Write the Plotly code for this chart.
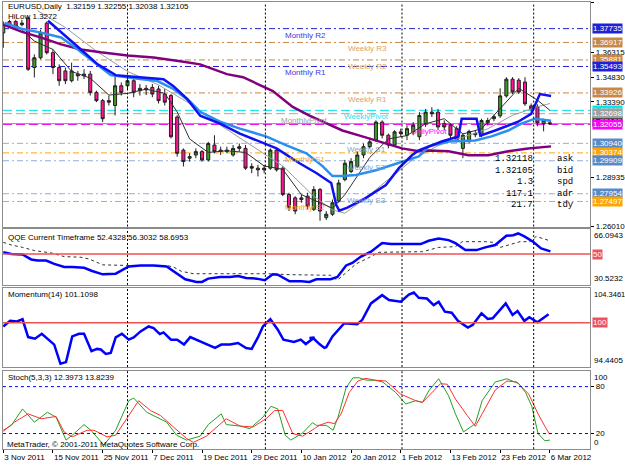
import plotly.graph_objects as go
from plotly.subplots import make_subplots

W, H = 625, 469
def px(x): return x / W
def py(y): return 1 - y / H

# ---------------- data ----------------
bar_idx = list(range(89))
opens = [1.3748,1.3816,1.3816,1.3797,1.3836,1.3543,1.3601,1.3806,1.3631,1.3543,
         1.3523,1.3465,1.3504,1.3494,1.3504,1.3396,1.3347,1.3347,1.3318,1.3435,
         1.3435,1.3465,1.3406,1.3420,1.3425,1.3416,1.3386,1.3377,1.3250,1.3054,
         1.3006,1.3025,1.3045,1.2996,1.3084,1.3054,1.3045,1.3025,1.3064,1.3064,
         1.2957,1.2947,1.2937,1.2947,1.3054,1.2947,1.2791,1.2771,1.2771,1.2781,
         1.2703,1.2820,1.2654,1.2674,1.2752,1.2879,1.2927,1.2957,1.3025,1.3074,
         1.3113,1.3220,1.3142,1.3084,1.3162,1.3142,1.3162,1.3133,1.3211,1.3279,
         1.3279,1.3211,1.3201,1.3181,1.3064,1.3105,1.3145,1.3140,1.3215,1.3240,
         1.3257,1.3375,1.3474,1.3468,1.3457,1.3316,1.3310,1.3211,1.32159]
closes = [1.3797,1.3787,1.3777,1.3806,1.3533,1.3601,1.3748,1.3631,1.3543,1.3465,
          1.3465,1.3523,1.3494,1.3504,1.3396,1.3347,1.3240,1.3338,1.3435,1.3396,
          1.3465,1.3396,1.3420,1.3411,1.3386,1.3347,1.3338,1.3133,1.3035,1.2986,
          1.3015,1.3045,1.2996,1.3093,1.3045,1.3045,1.3054,1.3064,1.3074,1.2947,
          1.2947,1.2937,1.2947,1.3054,1.2937,1.2791,1.2713,1.2693,1.2761,1.2722,
          1.2820,1.2693,1.2674,1.2742,1.2859,1.2976,1.2986,1.3025,1.3074,1.3103,
          1.3220,1.3142,1.3084,1.3162,1.3152,1.3181,1.3201,1.3259,1.3279,1.3269,
          1.3191,1.3191,1.3142,1.3111,1.3142,1.3164,1.3152,1.3229,1.3229,1.3252,
          1.3375,1.3474,1.3398,1.3398,1.3328,1.3298,1.3215,1.3230,1.32105]
highs = [1.3816,1.3826,1.3826,1.3826,1.3845,1.3621,1.3767,1.3816,1.3650,1.3562,
         1.3543,1.3572,1.3523,1.3533,1.3523,1.3406,1.3357,1.3377,1.3504,1.3455,
         1.3494,1.3484,1.3445,1.3440,1.3445,1.3435,1.3416,1.3386,1.3260,1.3064,
         1.3035,1.3064,1.3054,1.3103,1.3142,1.3074,1.3074,1.3084,1.3093,1.3084,
         1.2976,1.2967,1.2967,1.3064,1.3064,1.2957,1.2801,1.2781,1.2791,1.2801,
         1.2840,1.2830,1.2693,1.2761,1.2879,1.2996,1.3006,1.3045,1.3093,1.3123,
         1.3230,1.3230,1.3152,1.3172,1.3181,1.3201,1.3220,1.3279,1.3298,1.3308,
         1.3298,1.3230,1.3211,1.3195,1.3152,1.3175,1.3170,1.3240,1.3245,1.3265,
         1.3420,1.3486,1.3486,1.3480,1.3486,1.3330,1.3325,1.3240,1.32255]
lows = [1.3660,1.3777,1.3767,1.3787,1.3523,1.3484,1.3592,1.3621,1.3504,1.3435,
        1.3445,1.3455,1.3465,1.3475,1.3377,1.3338,1.3220,1.3318,1.3259,1.3377,
        1.3416,1.3367,1.3377,1.3380,1.3367,1.3330,1.3318,1.3123,1.3015,1.2957,
        1.2986,1.3006,1.2986,1.2986,1.3035,1.3025,1.3035,1.3015,1.3045,1.2937,
        1.2917,1.2898,1.2917,1.2937,1.2927,1.2781,1.2693,1.2674,1.2742,1.2703,
        1.2693,1.2635,1.2640,1.2664,1.2742,1.2869,1.2917,1.2947,1.3006,1.3064,
        1.3103,1.3123,1.3064,1.3074,1.3133,1.3113,1.3142,1.3113,1.3191,1.3250,
        1.3172,1.3172,1.3123,1.3100,1.3006,1.3095,1.3130,1.3130,1.3200,1.3225,
        1.3245,1.3365,1.3386,1.3386,1.3316,1.3280,1.3195,1.3165,1.32038]

# HiLo (blue), fast EMA (dodger blue), slow MA (purple): (bar position, price)
hilo_x = [7.2,10.4,12.5,15.2,18.1,20,25.8,27.4,29.6,31.7,34.9,38.1,41.3,44,47.7,50.4,52.8,53.6,54.1,55.4,58.4,61.6,63.7,65.8,66.9,70.6,73.3,73.8,76.2,76.8,79.2,82.9,85,86.4,88.2]
hilo_y = [1.3820,1.3720,1.3650,1.3562,1.3498,1.3492,1.3474,1.3433,1.3357,1.3258,1.3211,1.3152,1.3105,1.3064,1.2976,1.2918,1.2859,1.2730,1.2695,1.2713,1.2771,1.2847,1.2947,1.3023,1.3052,1.3105,1.3135,1.3240,1.3240,1.3140,1.3170,1.3222,1.3269,1.3386,1.3375]
ema_x = [0.2,2.9,6.1,9.3,12,14.6,17.3,21,24.8,27.4,30.1,31.7,34.9,38.1,42.4,45.6,48.8,51.4,53,54.6,56.8,60,62.6,64.8,66.9,68.5,71.7,76,78.6,81.3,83.4,85.6,88.2]
ema_y = [1.3808,1.3773,1.3750,1.3721,1.3650,1.3574,1.3498,1.3480,1.3463,1.3416,1.3340,1.3281,1.3222,1.3181,1.3134,1.3082,1.3035,1.2959,1.2900,1.2900,1.2906,1.2935,1.2965,1.2994,1.3017,1.3076,1.3105,1.3111,1.3135,1.3170,1.3211,1.3240,1.3228]
slow_x = [0,2.9,6.1,9.3,12.5,15.7,20,24.2,28.5,31.7,36,38.6,43.4,46.6,49.3,52,54.6,57.8,61.6,64.2,66.9,68.5,71.7,74.9,78.1,81.3,84.5,88.2]
slow_y = [1.3797,1.3756,1.3720,1.3680,1.3650,1.3633,1.3615,1.3603,1.3580,1.3562,1.3504,1.3486,1.3404,1.3310,1.3258,1.3211,1.3170,1.3135,1.3093,1.3064,1.3047,1.3052,1.3047,1.3023,1.3023,1.3047,1.3064,1.3076]
# thin fast average (dark) and slower thin band line (gray)
fast_x = [2,5,8,11,14,17,20,23,26,28,30,33,36,39,42,45,48,51,53,55,57,59,62,65,68,71,74,77,80,83,86,88]
fast_y = [1.3800,1.3700,1.3650,1.3520,1.3480,1.3380,1.3390,1.3415,1.3390,1.3280,1.3120,1.3040,1.3050,1.3040,1.2960,1.2940,1.2790,1.2740,1.2710,1.2790,1.2900,1.3010,1.3120,1.3140,1.3210,1.3240,1.3150,1.3180,1.3300,1.3420,1.3350,1.3290]
band_x = [5.5,10,15,20,25,30,35,40,45,50,53,55,58,62,66,70,74,78,82,86,88]
band_y = [1.3880,1.3780,1.3640,1.3520,1.3440,1.3330,1.3200,1.3080,1.2960,1.2780,1.2700,1.2680,1.2760,1.2880,1.3000,1.3080,1.3130,1.3180,1.3260,1.3310,1.3330]

# QQE
qqe_x = [0,1.3,3.1,4.5,5.5,6.9,8.2,9.8,11.1,13,14.3,16,18.1,20.2,22.1,24.2,26.3,27.7,29.3,31.1,32,33,34.9,36.5,37.8,39.1,40.8,42.1,43.4,44.2,46.1,48,49.3,
         50.4,51.4,52.7,53.8,55.2,56.2,57.6,59.2,61,62.4,64,65.3,67.2,68.5,70.1,71.7,72.8,74.4,76.2,77.6,79.2,81,82.1,82.9,83.9,85.3,86.6,88.1]
qqe_y = [51.1,50.1,49.7,46.6,45.9,45.9,43.8,41.8,41.8,41.3,39.3,37.2,37.6,42.2,42.8,42.8,42.2,38.6,34.1,32.4,32.4,34.5,35.5,35.5,36.1,34.9,34.5,33.5,37.2,37.0,32.8,32.8,32.4,
         34.1,34.1,34.1,35.5,42.8,44.4,48.4,51.5,56.9,56.3,56.3,56.7,56.3,58.4,59.8,58.8,56.9,52.5,52.5,54.2,55.7,61.5,61.9,63.0,61.1,57.8,53.6,51.7]
qqe_sig_x = [0,1.3,3.1,5,7.7,9.8,12.5,13.8,16,20,26.3,27.4,28.7,30.6,37,42.4,46.1,49.3,52.7,53.8,55.2,56.8,58.7,60.5,67.5,70.1,72.8,73.9,77.6,78.9,80,81.8,83.2,84.8,85.8,88]
qqe_sig_y = [57.4,55.7,54.2,52.2,50.7,48.4,48.0,46.9,43.2,42.8,42.8,41.8,39.1,37.6,37.6,37.6,37.0,36.6,36.6,33.5,38.6,43.8,47.4,51.1,51.5,54.2,54.7,57.8,57.8,57.4,54.2,56.3,57.8,57.8,61.1,58.4]

# Momentum(14)
mom_x = [0,1.1,2.2,3.1,4,5.1,6.2,7.7,8.2,9.2,10.1,11.1,12.2,13,14.2,15.1,15.7,16.5,17.3,18.1,19.1,20.2,21,22.1,23.4,24.2,25.2,25.8,27,28,29.1,30.1,31.7,34.1,35.1,36.5,37.8,39.1,40,41,41.8,43,44.2,45.1,46.8,47.9,48.7,50.1,
         49.3,49.9,50.9,51.7,52,53,54.9,56.2,57,57.8,59.2,61,62.1,63.2,64,65.3,66.1,66.9,68.2,69.3,70.1,71.1,72.2,73.2,74.8,75.6,77,78,78.8,80.9,82,82.8,83.9,84.7,86,87.8]
mom_y = [99.52,100.22,100.14,100.42,98.19,97.99,98.61,97.66,97.25,94.85,95.06,98.28,98.61,98.61,96.42,96.71,96.63,96.09,96.21,98.15,98.61,97.87,98.15,98.90,99.52,99.31,98.56,98.77,97.87,97.87,97.25,98.19,97.66,96.83,97.25,97.25,97.45,96.83,96.71,98.15,99.52,100.42,99.11,97.87,97.57,97.87,97.32,98.15,
         98.07,98.07,97.32,96.83,96.92,98.28,99.93,99.80,99.80,100.35,102.40,103.44,102.82,102.70,102.61,103.52,103.77,103.11,103.02,102.20,102.61,101.37,101.25,100.22,99.39,99.73,101.16,100.47,100.55,102.40,100.97,101.46,100.22,100.67,100.05,101.04]

# Stochastic(5,3,3)
stm_x = [0,1.3,3.1,5,7.1,8.5,10.1,11.1,13,14.1,16.2,18.1,20.2,21,23.1,24.7,26.3,27.9,29.5,31.7,33,35.1,35.9,38.1,39.7,41.8,43.1,44.2,45.4,46.3,48.2,49.8,
         50.4,52,53.1,53.9,55.2,56.3,57.3,58.4,60,61.1,63.2,64.8,66.4,67.5,68.5,70.1,71.7,72.8,74.1,76,77.1,79.2,81.1,83,84.1,85.1,86.1,87.2,88]
stm_y = [24.2,30.5,51.5,34.6,47.2,40.9,11.6,17.9,31.4,24.2,5.3,24.2,62.0,65.4,47.2,40.9,34.6,17.9,11.6,16.6,31.4,45.2,31.4,29.6,26.3,40.9,54.8,51.5,17.9,11.6,20.8,33.9,
         30.5,30.5,24.2,40.9,78.7,91.3,91.3,88.4,88.0,85.9,72.4,57.8,62.0,59.8,74.6,90.1,68.3,45.2,22.0,32.6,62.0,85.9,90.1,83.8,72.4,54.8,20.0,10.7,11.6]
sts_x = [0,1.8,4,6.1,8.5,9.8,11.1,13.5,14.6,16.7,18.1,20.2,21.8,23.7,25.3,27.4,29.5,30.6,32.7,35.9,38.1,40.2,42.3,43.7,45,46.6,48.2,50.1,
         50.9,52.3,53.3,54.4,55.7,57.1,58.4,59.7,61.6,64,66.4,67.5,68.8,70.4,71.5,72.8,74.7,76,77.1,79.2,81.1,82.7,84.6,86.1,87.2,88]
sts_y = [22.9,34.6,45.2,38.9,41.8,22.0,15.7,24.2,24.2,15.7,17.9,43.1,62.0,49.4,43.1,28.3,13.7,8.7,16.6,38.9,29.6,28.3,38.9,49.4,49.4,20.0,16.6,26.3,
         30.5,34.6,32.6,45.2,72.4,87.2,90.6,88.4,87.2,70.4,62.0,59.8,70.4,83.8,83.0,64.1,43.1,29.2,45.2,75.5,87.2,85.9,70.4,45.2,29.2,18.8]

tick_idx = [0, 8, 16, 24, 32, 40, 48, 56, 64, 72, 80, 88]
tick_text = ["3 Nov 2011", "15 Nov 2011", "25 Nov 2011", "7 Dec 2011", "19 Dec 2011", "29 Dec 2011",
             "10 Jan 2012", "20 Jan 2012", "1 Feb 2012", "13 Feb 2012", "23 Feb 2012", "6 Mar 2012"]
sep_idx = [20, 42.2, 64.2, 85.4]

level_names = ["Monthly R2", "Weekly R3", "Weekly R2", "Monthly R1", "Weekly R1", "WeeklyPivot",
               "MonthlyPivot", "DailyPivot", "Weekly S1", "Monthly S1", "Weekly S2", "Weekly S3", "Monthly S2"]
level_prices = [1.37735, 1.36917, 1.35881, 1.35493, 1.33926, 1.32895, 1.32698, 1.32055,
                1.30940, 1.30374, 1.29909, 1.27954, 1.27497]
bid_price = 1.32105
price_ticks = [1.39285, 1.36315, 1.34830, 1.33390, 1.28935, 1.26010]

info_values = ["1.32118", "1.32105", "1.3", "117.1", "21.7"]
info_names = ["ask", "bid", "spd", "adr", "tdy"]

# ---------------- styles ----------------
FONT = "Liberation Sans"
BLUE_M = "#2020d8"; PERU = "#cd853f"; CYAN = "#00e0e8"; GRAYP = "#a8a8a8"; MAG = "#ff00ff"
STEEL = "#8fb0d8"; STEELBOX = "#5a8ac6"; ORANGE = "#ffa500"
lvl_style = {
    "Monthly R2": (BLUE_M, "6px,3px,2px,3px", BLUE_M, 45.0, "#3a3ae0"),
    "Weekly R3": (PERU, "6px,3px,2px,3px", "#c88848", 55.2, "#d8a468"),
    "Weekly R2": (PERU, "6px,3px,2px,3px", "#c88848", 55.2, "#d8a468"),
    "Monthly R1": (BLUE_M, "6px,3px,2px,3px", BLUE_M, 45.0, "#3a3ae0"),
    "Weekly R1": (PERU, "6px,3px,2px,3px", "#c88848", 55.2, "#d8a468"),
    "WeeklyPivot": (CYAN, "9px,4px", "#00e8f0", 54.6, "#30e0f0"),
    "MonthlyPivot": (GRAYP, "9px,4px", "#a0a0a0", 44.4, "#a0a0a0"),
    "DailyPivot": (MAG, "9px,4px", MAG, 65.3, MAG),
    "Weekly S1": (STEEL, "6px,3px,2px,3px", STEELBOX, 55.0, "#7f9fd0"),
    "Monthly S1": (ORANGE, "6px,3px,2px,3px", ORANGE, 45.0, ORANGE),
    "Weekly S2": (STEEL, "6px,3px,2px,3px", STEELBOX, 55.0, "#7f9fd0"),
    "Weekly S3": (STEEL, "6px,3px,2px,3px", STEELBOX, 55.0, "#7f9fd0"),
    "Monthly S2": (ORANGE, "6px,3px,2px,3px", ORANGE, 45.0, ORANGE),
}

fig = make_subplots(rows=4, cols=1, shared_xaxes=True)

# main panel lines
for name, pr in zip(level_names, level_prices):
    col, dash, _, _, _ = lvl_style[name]
    fig.add_shape(type="line", xref="x domain", yref="y", x0=0, x1=1, y0=pr, y1=pr,
                  line=dict(color=col, width=1, dash=dash), layer="below")
fig.add_shape(type="line", xref="x domain", yref="y", x0=0, x1=1, y0=bid_price, y1=bid_price,
              line=dict(color="#8a8a8a", width=1), layer="below")

fig.add_trace(go.Scatter(x=band_x, y=band_y, mode="lines", line=dict(color="#9a9a9a", width=1)), row=1, col=1)
fig.add_trace(go.Scatter(x=fast_x, y=fast_y, mode="lines", line=dict(color="#303030", width=1)), row=1, col=1)
fig.add_trace(go.Scatter(x=slow_x, y=slow_y, mode="lines", line=dict(color="#800080", width=2.5)), row=1, col=1)
fig.add_trace(go.Scatter(x=ema_x, y=ema_y, mode="lines", line=dict(color="#2a8ff0", width=2.5)), row=1, col=1)
fig.add_trace(go.Scatter(x=hilo_x, y=hilo_y, mode="lines", line=dict(color="#1010f0", width=2.5)), row=1, col=1)
fig.add_trace(go.Candlestick(x=bar_idx, open=opens, high=highs, low=lows, close=closes,
                             increasing=dict(line=dict(color="#202020", width=1), fillcolor="#3c9a28"),
                             decreasing=dict(line=dict(color="#202020", width=1), fillcolor="#ff1493"),
                             whiskerwidth=0), row=1, col=1)

# QQE
fig.add_trace(go.Scatter(x=qqe_sig_x, y=qqe_sig_y, mode="lines", line=dict(color="#303030", width=1, dash="dot")), row=2, col=1)
fig.add_trace(go.Scatter(x=qqe_x, y=qqe_y, mode="lines", line=dict(color="#0000ff", width=2.5)), row=2, col=1)
fig.add_shape(type="line", xref="x2 domain", yref="y2", x0=0, x1=1, y0=50, y1=50, line=dict(color="#f05050", width=1.5))
# Momentum
fig.add_shape(type="line", xref="x3 domain", yref="y3", x0=0, x1=1, y0=100, y1=100, line=dict(color="#f05050", width=1.5))
fig.add_trace(go.Scatter(x=mom_x, y=mom_y, mode="lines", line=dict(color="#0000ff", width=2.5)), row=3, col=1)
# Stoch
for lv in (80, 20):
    fig.add_shape(type="line", xref="x4 domain", yref="y4", x0=0, x1=1, y0=lv, y1=lv,
                  line=dict(color="#0000ff", width=1, dash="3px,3px"))
fig.add_trace(go.Scatter(x=stm_x, y=stm_y, mode="lines", line=dict(color="#22a022", width=1)), row=4, col=1)
fig.add_trace(go.Scatter(x=sts_x, y=sts_y, mode="lines", line=dict(color="#ff3030", width=1)), row=4, col=1)

# period separators
for k in range(4):
    xr = "x" if k == 0 else f"x{k+1}"
    yr = "y domain" if k == 0 else f"y{k+1} domain"
    for s in sep_idx:
        fig.add_shape(type="line", xref=xr, yref=yr, x0=s, x1=s, y0=0, y1=1,
                      line=dict(color="#000000", width=1, dash="2px,2px"))

# ---------------- layout ----------------
xdom = [px(3), px(594)]
doms = [[py(229), py(2.5)], [py(288), py(231)], [py(371), py(291)], [py(454), py(375)]]
yranges = [[1.26010, 1.39285], [30.5232, 66.0943], [94.4405, 104.3461], [0, 100]]
for k in range(4):
    xa = "xaxis" if k == 0 else f"xaxis{k+1}"
    ya = "yaxis" if k == 0 else f"yaxis{k+1}"
    fig.layout[xa].update(domain=xdom, range=[-0.05, 94.5], showgrid=False, zeroline=False,
                          showline=True, mirror=True, linecolor="#8c8c8c", linewidth=1,
                          showticklabels=False, ticks="", rangeslider=dict(visible=False))
    fig.layout[ya].update(domain=doms[k], range=yranges[k], side="right", showgrid=False, zeroline=False,
                          showline=True, mirror=True, linecolor="#8c8c8c", linewidth=1,
                          showticklabels=False, ticks="")

fig.layout.yaxis.update(showticklabels=True, tickvals=price_ticks, ticktext=[f"{v:.5f}" for v in price_ticks],
                        ticks="outside", ticklen=3, tickcolor="#000000",
                        tickfont=dict(family=FONT, size=8, color="#000000"))
fig.layout.yaxis4.update(showticklabels=True, tickvals=[80, 20], ticks="outside", ticklen=3, tickcolor="#000000",
                         tickfont=dict(family=FONT, size=8, color="#000000"))
fig.layout.xaxis4.update(showticklabels=True, tickvals=tick_idx, ticktext=tick_text, ticks="outside", ticklen=3,
                         tickcolor="#000000", ticklabelposition="outside right", tickangle=0,
                         tickfont=dict(family=FONT, size=8, color="#000000"))

ann = []
def rbox(yref, yval, text, bg, fc="#ffffff", ys=0):
    ann.append(dict(xref="paper", x=px(596), xanchor="left", yref=yref, y=yval, yanchor="middle", yshift=ys,
                    text=text, showarrow=False, bgcolor=bg, borderpad=0,
                    font=dict(family=FONT, size=8, color=fc)))

# level labels inside chart and boxes on price scale
for name, pr in zip(level_names, level_prices):
    col, dash, boxc, lx, tc = lvl_style[name]
    ann.append(dict(xref="x", x=lx, xanchor="left", yref="y", y=pr, yanchor="top", text=name, showarrow=False,
                    font=dict(family=FONT, size=8, color=tc)))
rbox("y", bid_price, f"{bid_price:.5f}", "#000000", ys=2)
for name, pr in zip(level_names, level_prices):
    col, dash, boxc, lx, tc = lvl_style[name]
    rbox("y", pr, f"{pr:.5f}", boxc)

# panel extreme labels
def rtext(yref, yval, text, anchor, size=8):
    ann.append(dict(xref="paper", x=px(596), xanchor="left", yref=yref, y=yval, yanchor=anchor, text=text,
                    showarrow=False, font=dict(family=FONT, size=size, color="#000000")))
rtext("y2 domain", 1, "66.0943", "top"); rtext("y2 domain", 0, "30.5232", "bottom")
rtext("y3 domain", 1, "104.3461", "top", 7.5); rtext("y3 domain", 0, "94.4405", "bottom")
rtext("y4 domain", 1, "100", "top"); rtext("y4 domain", 0, "0", "bottom")
rbox("y2", 50, "50", "#f05060")
rbox("y3", 100, "100", "#f05060")

def ltext(x, y, text, fam=FONT, size=8, color="#000000", anchor="left"):
    ann.append(dict(xref="paper", yref="paper", x=px(x), y=py(y), xanchor=anchor, yanchor="middle",
                    text=text, showarrow=False, font=dict(family=fam, size=size, color=color)))

ltext(6, 7, "EURUSD,Daily  1.32159 1.32255 1.32038 1.32105")
ltext(6, 17, "HiLow 1.3272")
ltext(6, 240, "QQE Current Timeframe 52.4328 56.3032 58.6953")
ltext(6, 298, "Momentum(14) 101.1098")
ltext(6, 382, "Stoch(5,3,3) 12.3973 13.8239")
ltext(5, 449, "MetaTrader, © 2001-2011 MetaQuotes Software Corp.")
for i, (v, n) in enumerate(zip(info_values, info_names)):
    yy = 161 + i * 11.6
    ltext(538, yy, v, fam="Liberation Mono", size=9, anchor="right")
    ltext(559, yy, n, fam="Liberation Mono", size=9)

fig.update_layout(width=W, height=H, margin=dict(l=0, r=0, t=0, b=0), paper_bgcolor="#ffffff",
                  plot_bgcolor="#ffffff", showlegend=False, annotations=ann)
fig.write_html("out.html")
